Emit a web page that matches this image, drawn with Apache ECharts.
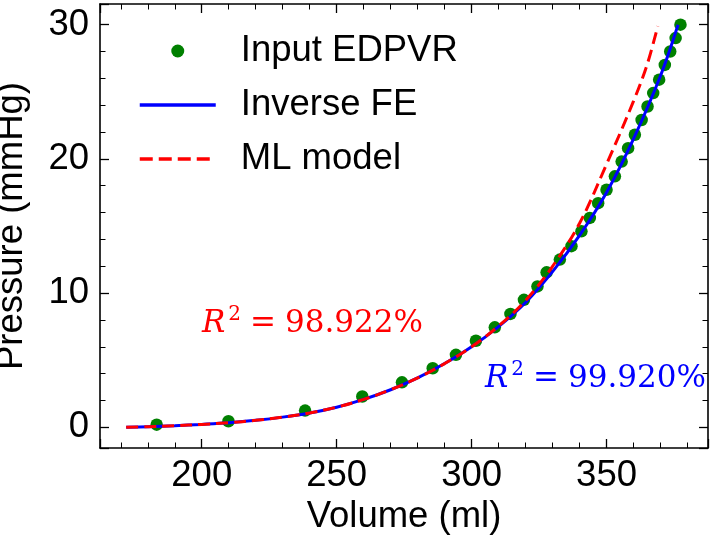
<!DOCTYPE html>
<html>
<head>
<meta charset="utf-8">
<script src="https://cdn.jsdelivr.net/npm/echarts@6/dist/echarts.min.js"></script>
<style>html,body{margin:0;padding:0;background:#fff;}#c{width:711px;height:541px;}</style>
</head>
<body>
<div id="c"></div>
<script>
// Input EDPVR points (volume ml, pressure mmHg)
const edpvrVolume = [183.3, 209.9, 238.3, 259.5, 274.2, 285.6, 294.2, 301.6, 308.6, 314.4, 319.4, 324.4, 327.8, 332.7, 337.0, 340.7, 343.8, 346.9, 350.0, 353.1, 355.6, 358.0, 360.5, 363.0, 365.2, 367.3, 369.5, 371.6, 373.6, 375.6, 377.4];
const edpvrPressure = [0.2, 0.45, 1.25, 2.3, 3.35, 4.4, 5.4, 6.45, 7.45, 8.45, 9.5, 10.5, 11.55, 12.5, 13.5, 14.6, 15.6, 16.7, 17.7, 18.7, 19.8, 20.8, 21.8, 22.9, 23.9, 24.9, 25.9, 27.0, 28.0, 29.0, 30.0];

// Inverse FE curve
const feVolume = [172, 180, 190, 200, 210, 220, 230, 240, 250, 260, 270, 280, 290, 300, 310, 320, 330, 340, 350, 360, 370, 376.5];
const fePressure = [0.0, 0.05, 0.12, 0.22, 0.34, 0.52, 0.76, 1.07, 1.5, 2.08, 2.8, 3.68, 4.75, 6.0, 7.5, 9.3, 11.6, 14.3, 17.5, 21.5, 26.2, 30.0];

// ML model curve
const mlVolume = [172, 180, 190, 200, 210, 220, 230, 240, 250, 260, 270, 280, 290, 300, 310, 320, 330, 340, 350, 360, 365, 369];
const mlPressure = [0.0, 0.05, 0.12, 0.22, 0.34, 0.52, 0.76, 1.07, 1.5, 2.08, 2.8, 3.68, 4.75, 6.0, 7.55, 9.45, 12.0, 15.2, 19.6, 24.3, 27.0, 29.9];

// Axis ranges and ticks
const xRange = [162.3, 387.6];
const yRange = [-1.54, 31.54];
const xStep = 50;
const yStep = 10;

const seriesNames = ['Input EDPVR', 'Inverse FE', 'ML model'];
const r2Labels = ['98.922%', '99.920%'];

const zip = (a, b) => a.map((v, i) => [v, b[i]]);
const FONT = 'Liberation Sans';
const FS = 36.5;

function axisCommon() {
  return {
    type: 'value',
    axisLine: { show: true, onZero: false, lineStyle: { color: '#000', width: 1.6 } },
    axisTick: { show: true, inside: true, length: 9, lineStyle: { color: '#000', width: 1.3 } },
    minorTick: { show: true, splitNumber: 5, length: 5.5, lineStyle: { color: '#000', width: 1 } },
    splitLine: { show: false },
    minorSplitLine: { show: false }
  };
}

function r2Text(label, color, x, y) {
  const base = { fontFamily: 'DejaVu Serif', fill: color, lineHeight: 38 };
  return {
    type: 'text', x: x, y: y, z: 10,
    style: {
      text: '{i|R}{s|2}{e|=}{n|' + label + '}',
      fill: color, align: 'left', verticalAlign: 'middle',
      rich: {
        i: Object.assign({ fontStyle: 'italic', fontSize: 31 }, base),
        s: Object.assign({ fontSize: 20, verticalAlign: 'top', padding: [0, 0, 0, 3] }, base),
        e: Object.assign({ fontSize: 31, padding: [0, 9, 0, 9] }, base),
        n: Object.assign({ fontSize: 31 }, base)
      }
    }
  };
}

const chart = echarts.init(document.getElementById('c'), null, { renderer: 'canvas' });
chart.setOption({
  animation: false,
  backgroundColor: '#fff',
  grid: { left: 100, right: 3, top: 4, bottom: 93, containLabel: false, outerBoundsMode: 'none' },
  xAxis: [
    Object.assign(axisCommon(), {
      position: 'bottom', min: xRange[0], max: xRange[1], minInterval: xStep, maxInterval: xStep,
      name: 'Volume (ml)', nameLocation: 'middle', nameGap: 47,
      nameTextStyle: { fontFamily: FONT, fontSize: FS, color: '#000' },
      axisLabel: { show: true, margin: 9, fontFamily: FONT, fontSize: FS, color: '#000', showMinLabel: false, showMaxLabel: false }
    }),
    Object.assign(axisCommon(), {
      position: 'top', min: xRange[0], max: xRange[1], minInterval: xStep, maxInterval: xStep,
      axisLabel: { show: false }
    })
  ],
  yAxis: [
    Object.assign(axisCommon(), {
      position: 'left', min: yRange[0], max: yRange[1], minInterval: yStep, maxInterval: yStep,
      name: 'Pressure (mmHg)', nameLocation: 'middle', nameGap: 70,
      nameTextStyle: { fontFamily: FONT, fontSize: FS, color: '#000' },
      axisLabel: { show: true, margin: 11, fontFamily: FONT, fontSize: FS, color: '#000', showMinLabel: false, showMaxLabel: false }
    }),
    Object.assign(axisCommon(), {
      position: 'right', min: yRange[0], max: yRange[1], minInterval: yStep, maxInterval: yStep,
      axisLabel: { show: false }
    })
  ],
  legend: {
    orient: 'vertical', left: 133, top: 26, itemWidth: 76, itemHeight: 13, itemGap: 14,
    symbolKeepAspect: true,
    data: [
      { name: seriesNames[0] },
      { name: seriesNames[1], itemStyle: { opacity: 0 }, lineStyle: { color: '#0000ff', width: 3.5, type: 'solid' } },
      { name: seriesNames[2], itemStyle: { opacity: 0 }, lineStyle: { color: '#ff0000', width: 3.5, type: [13, 6] } }
    ],
    textStyle: { fontFamily: FONT, fontSize: FS, color: '#000', lineHeight: 40, padding: [0, 0, 0, 20] }
  },
  series: [
    {
      name: seriesNames[0], type: 'scatter', xAxisIndex: 0, yAxisIndex: 0,
      symbol: 'circle', symbolSize: 12.5,
      itemStyle: { color: '#008000', opacity: 1 },
      data: zip(edpvrVolume, edpvrPressure), z: 2
    },
    {
      name: seriesNames[1], type: 'line', xAxisIndex: 0, yAxisIndex: 0,
      symbol: 'none', smooth: 0.35,
      lineStyle: { color: '#0000ff', width: 3 }, itemStyle: { color: '#0000ff' },
      data: zip(feVolume, fePressure), z: 3
    },
    {
      name: seriesNames[2], type: 'line', xAxisIndex: 0, yAxisIndex: 0,
      symbol: 'none', smooth: 0.35,
      lineStyle: { color: '#ff0000', width: 3, type: [12, 6] }, itemStyle: { color: '#ff0000' },
      data: zip(mlVolume, mlPressure), z: 4
    }
  ],
  graphic: [
    r2Text(r2Labels[0], '#ff0000', 202, 324),
    r2Text(r2Labels[1], '#0000ff', 485, 379)
  ]
});
</script>
</body>
</html>
